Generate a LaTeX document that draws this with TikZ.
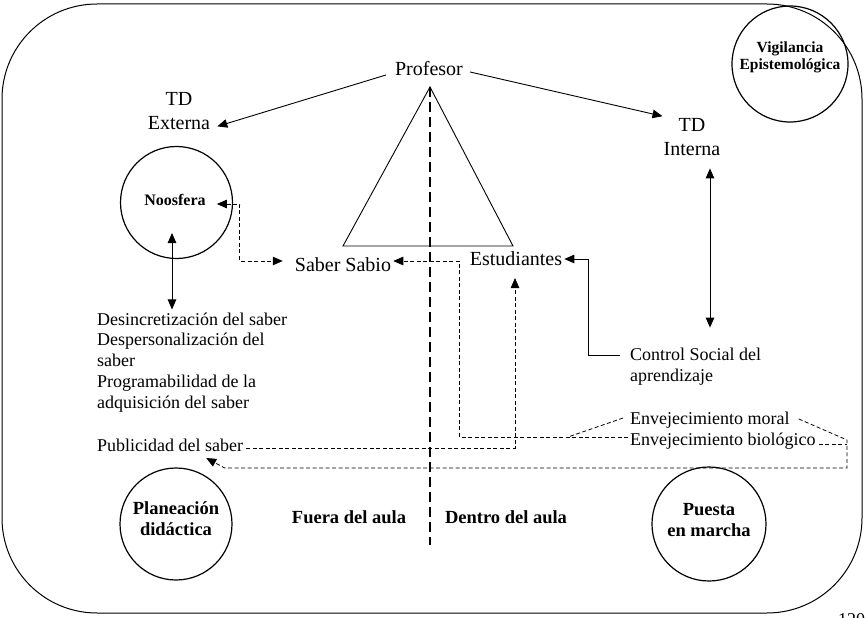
\documentclass[tikz,border=0pt]{standalone}
\usepackage{fontspec}
\setmainfont{Liberation Serif}
\usetikzlibrary{arrows.meta,calc}
\begin{document}
\begin{tikzpicture}[x=1pt,y=1pt,
  big/.style={font=\fontsize{20}{23.5}\selectfont, inner sep=0pt, align=center},
  small/.style={font=\fontsize{18}{20.7}\selectfont, inner sep=0pt, align=left},
  boldlbl/.style={font=\fontsize{18.5}{21}\selectfont\bfseries, inner sep=0pt, align=center},
  ring/.style={draw, circle, line width=1.2pt, inner sep=0pt},
  tipT/.tip={Triangle[length=10pt,width=8.5pt]},
  arr/.style={-tipT, line width=0.9pt},
  dblarr/.style={tipT-tipT, line width=0.9pt},
  dotline/.style={dash pattern=on 4pt off 2.5pt, line width=0.8pt},
]
\useasboundingbox (0,0) rectangle (865,-618);

% outer frame
\draw[line width=1pt, rounded corners=95pt] (2,-4) rectangle (862,-613);

% circles
\node[ring, minimum size=116pt] (vigc) at (790,-64) {};
\node[ring, minimum size=112pt] (noosc) at (176.5,-202.5) {};
\node[ring, minimum size=112pt] (planc) at (176,-524) {};
\node[ring, minimum size=114pt] (puesc) at (709,-524) {};

% didactic triangle and the classroom divide
\coordinate (apex) at (430,-87);
\draw[line width=0.9pt] (apex) -- (513,-246) -- (343,-246) -- cycle;
\draw[line width=1.3pt, dash pattern=on 10pt off 5pt] (apex) -- (430,-545);

% text (multi-line nodes are placed by the baseline of their last line)
\node[big, anchor=base] (prof) at (429,-75) {Profesor};
\node[big, anchor=base] (tdext) at (179,-129) {TD\\Externa};
\node[big, anchor=base] (tdint) at (692,-155) {TD\\Interna};
\node[big, anchor=base] (saber) at (343,-271) {Saber Sabio};
\node[big, anchor=base] (estud) at (516,-265) {Estudiantes};

\node[small, anchor=base west] (list) at (97,-408) {Desincretización del saber\\Despersonalización del\\saber\\Programabilidad de la\\adquisición del saber};
\node[small, anchor=base west] (publ) at (97,-451) {Publicidad del saber};
\node[small, anchor=base west] (ctrl) at (630,-381) {Control Social del\\aprendizaje};
\node[small, anchor=base west] (envm) at (630,-424) {Envejecimiento moral};
\node[small, anchor=base west] (envb) at (630,-445) {Envejecimiento biológico};

\node[font=\fontsize{16}{18}\selectfont\bfseries, inner sep=0pt, anchor=base] (noos) at (175,-205) {Noosfera};
\node[font=\fontsize{15.5}{17.5}\selectfont\bfseries, inner sep=0pt, align=center, anchor=base] (vig) at (790,-70) {Vigilancia\\Epistemológica};
\node[boldlbl, anchor=base] (plan) at (176,-535) {Planeación\\didáctica};
\node[boldlbl, anchor=base] (pues) at (709,-536) {Puesta\\en marcha};
\node[boldlbl, anchor=base] (fuera) at (349,-523) {Fuera del aula};
\node[boldlbl, anchor=base] (dentro) at (506,-523) {Dentro del aula};

\node[font=\fontsize{18}{20}\selectfont, inner sep=0pt, anchor=north west] (pgnum) at (838,-613) {120};

% transposition arrows from the teacher
\draw[arr] ([xshift=-9pt]prof.base west) -- ([xshift=7pt,yshift=3pt]tdext.south east);
\draw[arr] ([xshift=7pt,yshift=3pt]prof.base east) -- ([xshift=-1pt,yshift=2pt]tdint.north west);

% internal transposition <-> social control
\draw[dblarr] ([xshift=18pt,yshift=-13pt]tdint.south) coordinate (ia) -- ($(ia |- ctrl.north)+(0,20)$);

% social control -> students
\draw[arr] ([xshift=-10pt,yshift=-8pt]ctrl.north west) -- ++(-32,0) |- ([xshift=2pt,yshift=6pt]estud.base east);

% noosphere <-> transformations of knowledge
\draw[dblarr] ([xshift=-3pt,yshift=-28pt]noos.base) coordinate (na) -- ($(na |- list.north)+(0,3)$);

% noosphere <-> scholarly knowledge
\draw[dblarr, dotline] ([xshift=11pt,yshift=1pt]noos.base east) -- ++(23,0) |- ([xshift=-12pt,yshift=10pt]saber.base west);

% ageing -> scholarly knowledge
\draw[arr, dotline] ([xshift=-2pt,yshift=8pt]envb.base west) coordinate (eb) -| ($(saber.base east)+(68,10)$) -- ([xshift=2pt,yshift=10pt]saber.base east);
\draw[dotline] ([xshift=-7pt,yshift=6pt]envm.base west) -- ($(eb)+(-60,0)$);

% publicity -> students
\draw[arr, dotline] ([xshift=3pt,yshift=3pt]publ.base east) -| ([xshift=-1pt,yshift=-13pt]estud.base);

% ageing -> publicity
\coordinate (rc) at (847,-468);
\draw[arr, dotline] ([xshift=9pt,yshift=5pt]envm.base east) -- ($(rc)+(0,28)$) -- (rc) -- ($(publ.base)+(54.5,-17)$) -- ([xshift=36pt,yshift=-7pt]publ.base);
\draw[dotline] ([xshift=3pt,yshift=1pt]envb.base east) -- ($(rc)+(0,24)$);
\end{tikzpicture}
\end{document}
